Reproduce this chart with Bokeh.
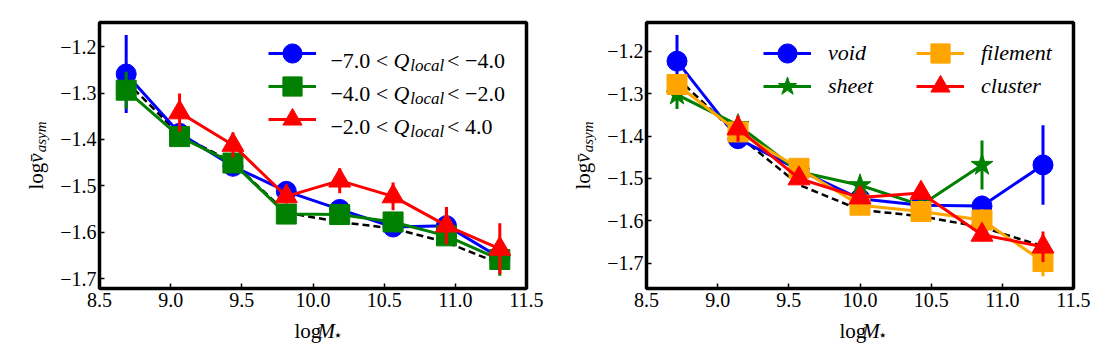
import math
import numpy as np
from bokeh.plotting import figure
from bokeh.layouts import row, column
from bokeh.models import ColumnDataSource, FixedTicker, Label, Legend, LegendItem, Range1d
from bokeh.embed import file_html
from bokeh.resources import INLINE

nan = float("nan")

# ---------------- data: left panel (local tidal parameter Q_local) ----------------
mass_left = [8.6875, 9.0625, 9.4375, 9.8125, 10.1875, 10.5625, 10.9375, 11.3125]
all_left = [-1.275, -1.390, -1.450, -1.558, -1.578, -1.592, -1.622, -1.668]
q_low = [-1.259, -1.387, -1.458, -1.512, -1.551, -1.589, -1.586, -1.655]
q_low_err = [0.084, 0.012, 0.012, 0.012, 0.020, 0.012, 0.040, 0.020]
q_mid = [-1.294, -1.394, -1.451, -1.561, -1.562, -1.578, -1.608, -1.659]
q_mid_err = [0.040, 0.010, 0.010, 0.010, 0.010, 0.010, 0.015, 0.035]
q_high = [nan, -1.342, -1.412, -1.523, -1.489, -1.523, -1.586, -1.636]
q_high_err = [nan, 0.041, 0.027, 0.015, 0.027, 0.030, 0.040, 0.055]
q_bounds = [("−7.0", "−4.0"), ("−4.0", "−2.0"), ("−2.0", "4.0")]

# ---------------- data: right panel (cosmic-web environment) ----------------
mass_right = [8.7143, 9.1429, 9.5714, 10.0, 10.4286, 10.8571, 11.2857]
all_right = [-1.262, -1.398, -1.515, -1.574, -1.589, -1.615, -1.660]
void = [-1.223, -1.406, -1.480, -1.548, -1.563, -1.565, -1.468]
void_err = [0.062, 0.015, 0.012, 0.012, 0.012, 0.024, 0.094]
sheet = [-1.302, -1.374, -1.484, -1.516, -1.563, -1.468, nan]
sheet_err = [0.034, 0.012, 0.012, 0.015, 0.012, 0.058, nan]
filement = [-1.278, -1.390, -1.476, -1.563, -1.578, -1.598, -1.696]
filement_err = [0.020, 0.015, 0.012, 0.012, 0.012, 0.025, 0.035]
cluster = [nan, -1.382, -1.500, -1.545, -1.534, -1.633, -1.661]
cluster_err = [nan, 0.031, 0.012, 0.012, 0.015, 0.015, 0.036]
env_names = ["void", "sheet", "filement", "cluster"]

x_ticks = [8.5, 9.0, 9.5, 10.0, 10.5, 11.0, 11.5]
x_tick_labels = ["8.5", "9.0", "9.5", "10.0", "10.5", "11.0", "11.5"]
y_ticks = [-1.7, -1.6, -1.5, -1.4, -1.3, -1.2]
y_tick_labels = ["−1.7", "−1.6", "−1.5", "−1.4", "−1.3", "−1.2"]

BLUE, GREEN, RED, ORANGE = "#0000ff", "#008000", "#ff0000", "#ffa500"
SERIF = "Liberation Serif"

# ---------------- layout (page pixels) ----------------
FT, FB = 22, 288          # frame top / bottom
PH, XH, TOTAL_H = 316, 28, 344
YL1_W, YL2_W = 57, 48
LEFT = dict(origin=YL1_W, width=556 - YL1_W, fl=97, fr=526, y0=-1.7215, y1=-1.148)
RIGHT = dict(origin=556 + YL2_W, width=1108 - 556 - YL2_W, fl=644, fr=1073,
             y0=-1.7597, y1=-1.1317)


def make_fig(g):
    p = figure(width=g["width"], height=PH,
               x_range=Range1d(8.5, 11.5), y_range=Range1d(g["y0"], g["y1"]),
               min_border_left=g["fl"] - g["origin"],
               min_border_right=g["origin"] + g["width"] - g["fr"],
               min_border_top=FT, min_border_bottom=PH - FB,
               output_backend="svg", toolbar_location=None, tools="")
    p.outline_line_color = "black"
    p.outline_line_width = 3.5
    p.grid.visible = False
    p.background_fill_color = "white"
    p.border_fill_color = "white"
    for ax in (p.xaxis[0], p.yaxis[0]):
        ax.axis_line_color = None
        ax.major_tick_in = 5
        ax.major_tick_out = 0
        ax.major_tick_line_width = 1.5
        ax.major_tick_line_color = "black"
        ax.minor_tick_line_color = None
        ax.major_label_text_font = SERIF
        ax.major_label_text_font_size = "20px"
        ax.major_label_text_color = "black"
    p.xaxis[0].ticker = FixedTicker(ticks=x_ticks)
    p.xaxis[0].major_label_overrides = dict(zip(x_ticks, x_tick_labels))
    p.xaxis[0].major_label_standoff = 4
    p.yaxis[0].ticker = FixedTicker(ticks=y_ticks)
    p.yaxis[0].major_label_overrides = dict(zip(y_ticks, y_tick_labels))
    p.yaxis[0].major_label_standoff = 3
    return p


def spacer(left, top, w, h):
    s = figure(width=w, height=h, x_range=Range1d(0, w), y_range=Range1d(0, h),
               min_border=0, x_axis_location=None, y_axis_location=None,
               output_backend="svg", toolbar_location=None, tools="")
    s.outline_line_color = None
    s.grid.visible = False
    s.background_fill_color = "white"
    s.border_fill_color = "white"
    s.x_range.tags = [left, top, h]
    return s


def label(p, x, y, s, size=21, style="normal", angle=0.0, font=SERIF, align="left"):
    p.add_layout(Label(x=x, y=y, text=s, text_font=font, text_font_size=f"{size}px",
                       text_font_style=style, text_color="black", angle=angle,
                       text_align=align, text_baseline="alphabetic"))


def text_sp(s, px, py, txt, **kw):
    left, top, h = s.x_range.tags
    label(s, px - left, top + h - py, txt, **kw)


def text_plot(p, g, px, py, txt, **kw):
    x = 8.5 + (px - g["fl"]) / (g["fr"] - g["fl"]) * 3.0
    y = g["y1"] - (py - FT) / (FB - FT) * (g["y1"] - g["y0"])
    label(p, x, y, txt, **kw)


def series(p, x, y, err, color, marker, size):
    x = np.array(x, dtype=float)
    y = np.array(y, dtype=float)
    e = np.array(err, dtype=float)
    src = ColumnDataSource(dict(x=x, y=y, lo=y - e, hi=y + e))
    p.segment(x0="x", y0="lo", x1="x", y1="hi", source=src, line_color=color, line_width=3)
    ln = p.line("x", "y", source=src, line_color=color, line_width=3)
    sc = p.scatter("x", "y", source=src, marker=marker, size=size,
                   fill_color=color, line_color=color, line_width=1)
    return [ln, sc]


def legend_entry(p, g, lab, renderers, glyph_left, row_center, **kw):
    leg = Legend(items=[LegendItem(label=lab, renderers=renderers)],
                 location=(glyph_left - g["fl"], FB - 25 - row_center),
                 glyph_width=48, glyph_height=50, padding=0, margin=0, spacing=0,
                 border_line_color=None, background_fill_alpha=0, **kw)
    p.add_layout(leg)


# Times-metric widths (em) for composing mixed-style labels
W = {"0": .5, "1": .5, "2": .5, "3": .5, "4": .5, "5": .5, "6": .5, "7": .5, "8": .5, "9": .5,
     ".": .25, " ": .25, "<": .564, "−": .564, "Q": .722, "l": .278, "o": .5, "c": .444,
     "a": .5, "g": .5, "M": .833, "v": .444, "s": .389, "y": .444, "m": .722}


def tw(s, size):
    return sum(W.get(ch, 0.5) for ch in s) * size


def x_title(s, g):
    cx = (g["fl"] + g["fr"]) / 2
    total = tw("log", 21) + tw("M", 21) + 9
    x0 = cx - total / 2
    bl = 330
    text_sp(s, x0, bl, "log")
    text_sp(s, x0 + tw("log", 21), bl, "M", style="italic")
    text_sp(s, x0 + tw("log", 21) + tw("M", 21) + 1, bl + 4, "⋆", size=15, font="DejaVu Sans")


def y_title(s, g):
    # rotated text, each piece anchored at its upper end (text_align="right")
    bx = g["fl"] - 62
    cy = (FT + FB) / 2
    total = tw("log", 21) + tw("v", 21) + tw("asym", 15) + 1
    y_log_top = cy + total / 2 - tw("log", 21)
    y_v_top = y_log_top - tw("v", 21)
    y_sub_top = y_v_top - 1 - tw("asym", 15)
    rot = math.pi / 2
    text_sp(s, bx, y_log_top, "log", angle=rot, align="right")
    text_sp(s, bx, y_v_top, "v\u0304", style="italic", angle=rot, align="right")
    text_sp(s, bx + 5, y_sub_top, "asym", size=15, style="italic", angle=rot, align="right")


# ---------------- left panel ----------------
p1 = make_fig(LEFT)
p1.line(mass_left, all_left, line_color="black", line_width=2.5, line_dash="7 4")
r_low = series(p1, mass_left, q_low, q_low_err, BLUE, "circle", 20)
r_mid = series(p1, mass_left, q_mid, q_mid_err, GREEN, "square", 20)
r_high = series(p1, mass_left, q_high, q_high_err, RED, "triangle", 22)
row_y = [53, 86, 119]
for r, (lo, hi), yc in zip((r_low, r_mid, r_high), q_bounds, row_y):
    legend_entry(p1, LEFT, " ", r, 266, yc, label_standoff=0, label_width=5,
                 label_text_font_size="4px")
    bl = yc + 7
    xa = 329
    sa = f"{lo} < "
    text_plot(p1, LEFT, xa, bl, sa, size=22)
    xb = xa + tw(sa, 22)
    text_plot(p1, LEFT, xb, bl, "Q", size=22, style="italic")
    xc = xb + tw("Q", 22) + 1
    text_plot(p1, LEFT, xc, bl + 5, "local", size=17, style="italic")
    xd = xc + tw("local", 17) + 3
    text_plot(p1, LEFT, xd, bl, f" < {hi}", size=22)
ylab1 = spacer(0, 0, YL1_W, TOTAL_H)
y_title(ylab1, LEFT)
xlab1 = spacer(LEFT["origin"], PH, LEFT["width"], XH)
x_title(xlab1, LEFT)

# ---------------- right panel ----------------
p2 = make_fig(RIGHT)
p2.line(mass_right, all_right, line_color="black", line_width=2.5, line_dash="7 4")
r_void = series(p2, mass_right, void, void_err, BLUE, "circle", 20)
r_sheet = series(p2, mass_right, sheet, sheet_err, GREEN, "star", 23)
r_fil = series(p2, mass_right, filement, filement_err, ORANGE, "square", 20)
r_clu = series(p2, mass_right, cluster, cluster_err, RED, "triangle", 22)
slots = [(761, 53), (761, 86), (914, 53), (914, 86)]
for name, r, (gx, gy) in zip(env_names, (r_void, r_sheet, r_fil, r_clu), slots):
    legend_entry(p2, RIGHT, name, r, gx, gy, label_standoff=17,
                 label_text_font=SERIF,
                 label_text_font_style="italic", label_text_font_size="22px",
                 label_text_color="black")
ylab2 = spacer(556, 0, YL2_W, TOTAL_H)
y_title(ylab2, RIGHT)
xlab2 = spacer(RIGHT["origin"], PH, RIGHT["width"], XH)
x_title(xlab2, RIGHT)

layout = row(ylab1, column(p1, xlab1), ylab2, column(p2, xlab2))
open("out.html", "w").write(file_html(layout, INLINE))
